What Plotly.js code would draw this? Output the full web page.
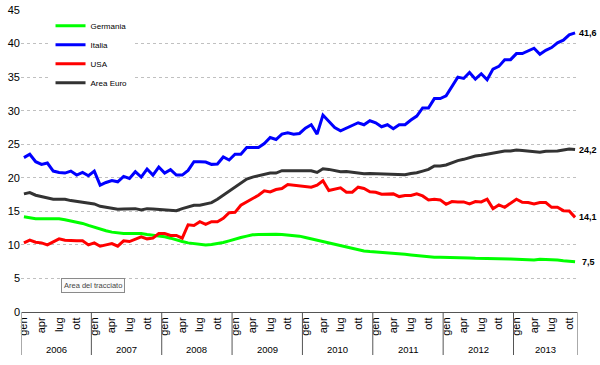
<!DOCTYPE html>
<html><head><meta charset="utf-8">
<script src="https://cdn.plot.ly/plotly-3.0.1.min.js"></script>
<style>html,body{margin:0;padding:0;background:#fff}#chart{width:600px;height:365px}</style>
</head><body><div id="chart"></div>
<script>
const years = [2006, 2007, 2008, 2009, 2010, 2011, 2012, 2013];
const monthTickLabels = ['gen', 'apr', 'lug', 'ott'];
const monthTickOffsets = [0, 3, 6, 9];
const seriesNames = ['Germania', 'Italia', 'USA', 'Area Euro'];

const germania = [14.2,14.0,13.9,13.9,13.9,13.9,13.9,13.75,13.6,13.45,13.2,12.9,
  12.6,12.35,12.1,11.9,11.75,11.7,11.7,11.7,11.7,11.55,11.45,11.4,
  11.2,11.0,10.7,10.5,10.3,10.2,10.1,10.0,10.05,10.15,10.35,10.6,
  10.9,11.1,11.3,11.5,11.55,11.6,11.6,11.6,11.55,11.5,11.45,11.3,
  11.1,10.9,10.65,10.4,10.2,10.0,9.8,9.6,9.4,9.25,9.1,9.0,
  8.95,8.9,8.8,8.75,8.65,8.6,8.5,8.4,8.3,8.25,8.15,8.15,
  8.15,8.1,8.1,8.05,8.05,8.0,8.0,7.95,7.95,7.95,7.95,7.9,
  7.85,7.8,7.75,7.75,7.85,7.85,7.85,7.75,7.65,7.6,7.5];
const italia = [23.0,23.5,22.4,22.0,22.2,21.0,20.8,20.7,21.0,20.4,20.8,20.3,
  21.0,18.9,19.3,19.6,19.4,20.2,19.9,20.9,20.1,21.3,20.4,21.6,
  20.7,21.2,20.4,20.4,21.1,22.4,22.4,22.35,22.0,22.05,23.1,22.65,
  23.5,23.5,24.5,24.5,24.5,25.1,26.0,25.7,26.5,26.7,26.5,26.6,
  27.4,27.9,26.5,29.35,28.5,27.5,27.0,27.4,27.9,28.2,27.9,28.5,
  28.2,27.6,27.9,27.3,27.9,27.9,28.6,29.2,30.4,30.4,31.8,31.8,
  32.2,33.6,35.0,34.8,35.7,34.7,35.5,34.6,36.2,36.6,37.6,37.6,
  38.5,38.5,38.9,39.3,38.4,39.0,39.4,40.1,40.5,41.3,41.6];
const usa = [10.3,10.7,10.4,10.3,10.0,10.4,10.9,10.7,10.6,10.6,10.6,10.0,
  10.3,9.8,10.0,10.2,9.8,10.6,10.5,10.8,11.2,10.9,11.0,11.7,
  11.7,11.4,11.4,11.0,13.0,12.9,13.45,13.05,13.45,13.45,13.95,14.8,
  14.85,15.9,16.4,16.8,17.4,18.05,17.9,18.25,18.4,19.0,18.9,18.8,
  18.7,18.6,18.9,19.55,18.1,18.3,18.5,17.85,17.85,18.6,18.4,17.9,
  17.85,17.55,17.55,17.6,17.2,17.35,17.35,17.6,17.3,16.7,16.8,16.7,
  16.05,16.45,16.4,16.4,16.1,16.45,16.4,16.8,15.4,15.95,15.6,16.2,
  16.8,16.35,16.3,16.1,16.3,16.3,15.6,15.6,15.1,15.05,14.1];
const areaEuro = [17.6,17.8,17.4,17.2,17.1,16.8,16.8,16.8,16.6,16.5,16.4,16.2,
  16.1,15.75,15.6,15.45,15.3,15.35,15.4,15.4,15.2,15.4,15.35,15.3,
  15.2,15.15,15.1,15.4,15.6,15.9,15.9,16.05,16.3,16.8,17.4,17.9,
  18.6,19.2,19.8,20.1,20.3,20.4,20.7,20.7,21.05,21.05,21.05,21.0,
  21.0,21.05,20.8,21.35,21.25,21.05,20.9,20.95,20.85,20.65,20.6,20.65,
  20.6,20.6,20.6,20.45,20.45,20.45,20.65,20.75,21.0,21.25,21.75,21.75,
  21.9,22.25,22.55,22.75,23.05,23.25,23.35,23.5,23.65,23.85,24.0,24.0,
  24.15,24.05,24.0,23.95,23.8,23.95,23.95,24.0,24.15,24.3,24.2];

const seriesValues = [germania, italia, usa, areaEuro];
const seriesColors = ['#00ff00', '#0000ff', '#ff0000', '#333333'];

const nPoints = italia.length;
const xIdx = italia.map((_, i) => i);

const traces = seriesValues.map((vals, s) => ({
  x: xIdx, y: vals, type: 'scatter', mode: 'lines', name: seriesNames[s],
  line: {color: seriesColors[s], width: 3}, hoverinfo: 'skip'
}));

// month ticks
const tickvals = [], ticktext = [];
years.forEach((yr, k) => {
  monthTickOffsets.forEach((m, j) => {
    const idx = 12 * k + m;
    if (idx < nPoints) { tickvals.push(idx); ticktext.push(monthTickLabels[j]); }
  });
});

const xMax = nPoints - 0.5;
const shapes = [];
const annotations = [];
const sepBottom = -0.1424;
years.forEach((yr, k) => {
  const x0 = 12 * k - 0.5;
  const x1 = Math.min(12 * (k + 1) - 0.5, xMax);
  shapes.push({type: 'line', xref: 'x', yref: 'paper', x0: x0, x1: x0, y0: 0, y1: sepBottom,
    line: {color: k === 0 ? '#aaaaaa' : '#555555', width: k === 0 ? 2 : 1}});
  annotations.push({xref: 'x', yref: 'paper', x: (x0 + x1) / 2, y: -0.125, text: String(yr),
    showarrow: false, font: {family: 'Liberation Sans, Arial, sans-serif', size: 9.5, color: '#000'},
    xanchor: 'center', yanchor: 'middle'});
});
shapes.push({type: 'line', xref: 'x', yref: 'paper', x0: xMax, x1: xMax, y0: 0, y1: sepBottom,
  line: {color: '#aaaaaa', width: 2}});

// end labels
seriesValues.forEach((vals) => {
  const v = vals[vals.length - 1];
  annotations.push({xref: 'x', yref: 'y', x: vals.length - 1, y: v,
    text: '<b>' + v.toFixed(1).replace('.', ',') + '</b>', showarrow: false,
    xanchor: 'center', yanchor: 'middle', xshift: 13,
    font: {family: 'Liberation Sans, Arial, sans-serif', size: 9, color: '#000'}});
});

// tooltip artifact
annotations.push({xref: 'paper', yref: 'paper', x: 0.13, y: 0.0894, text: 'Area del tracciato',
  showarrow: false, xanchor: 'center', yanchor: 'middle',
  font: {family: 'Liberation Sans, Arial, sans-serif', size: 7.5, color: '#444'},
  bgcolor: '#fbfbfb', bordercolor: '#8a8a8a', borderwidth: 1, borderpad: 2});

const layout = {
  width: 600, height: 365,
  margin: {l: 21, r: 22, t: 10, b: 53},
  paper_bgcolor: '#fff', plot_bgcolor: '#fff',
  font: {family: 'Liberation Sans, Arial, sans-serif', color: '#000'},
  showlegend: true,
  legend: {x: 0.053, y: 0.996, xanchor: 'left', yanchor: 'top', bgcolor: '#fff',
    font: {size: 8, family: 'Liberation Sans, Arial, sans-serif', color: '#000'},
    traceorder: 'normal', itemwidth: 30, tracegroupgap: 0},
  xaxis: {range: [-0.5, xMax], tickmode: 'array', tickvals: tickvals, ticktext: ticktext,
    tickangle: -90, ticks: '', showgrid: false, zeroline: false,
    showline: true, linecolor: '#555', linewidth: 1,
    tickfont: {size: 11, family: 'Liberation Sans, Arial, sans-serif', color: '#000'}, fixedrange: true},
  yaxis: {range: [0, 45], dtick: 5, tick0: 0, showgrid: true, gridcolor: '#c0c0c0', griddash: 'dot',
    gridwidth: 1, zeroline: false, showline: false, ticks: '',
    tickfont: {size: 11, family: 'Liberation Sans, Arial, sans-serif', color: '#000'}, fixedrange: true},
  shapes: shapes, annotations: annotations
};

Plotly.newPlot('chart', traces, layout, {displayModeBar: false, staticPlot: true});
</script>
</body></html>
